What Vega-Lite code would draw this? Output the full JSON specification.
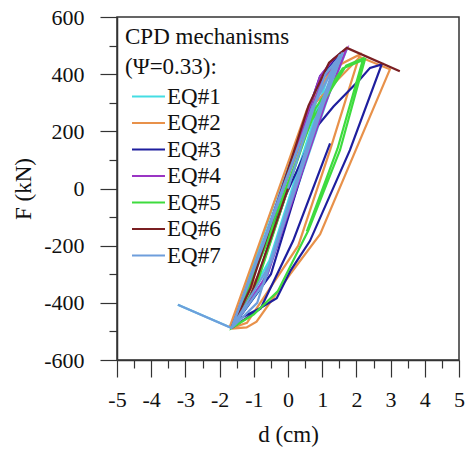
{
  "$schema": "https://vega.github.io/schema/vega-lite/v6.json",
  "width": 342,
  "height": 343,
  "autosize": "none",
  "padding": {"left": 117, "top": 17, "right": 6, "bottom": 90},
  "background": "white",
  "config": {
    "view": {"stroke": "#333", "strokeWidth": 1.5},
    "font": "Liberation Serif",
    "axis": {"labelFont": "Liberation Serif", "titleFont": "Liberation Serif"},
    "legend": {"labelFont": "Liberation Serif", "titleFont": "Liberation Serif"}
  },
  "data": {"values": [
    {"eq":"EQ#1","i":0,"d":0.0,"F":0},
    {"eq":"EQ#1","i":1,"d":0.9,"F":330},
    {"eq":"EQ#1","i":2,"d":1.55,"F":478},
    {"eq":"EQ#1","i":3,"d":1.0,"F":280},
    {"eq":"EQ#1","i":4,"d":-0.6,"F":-300},
    {"eq":"EQ#1","i":5,"d":-1.6,"F":-485},
    {"eq":"EQ#1","i":6,"d":-0.9,"F":-250},
    {"eq":"EQ#1","i":7,"d":0.5,"F":200},
    {"eq":"EQ#1","i":8,"d":1.72,"F":488},
    {"eq":"EQ#1","i":9,"d":1.2,"F":330},
    {"eq":"EQ#1","i":10,"d":-0.3,"F":-200},
    {"eq":"EQ#1","i":11,"d":-1.65,"F":-488},
    {"eq":"EQ#1","i":12,"d":-0.4,"F":-50},
    {"eq":"EQ#1","i":13,"d":0.9,"F":360},
    {"eq":"EQ#1","i":14,"d":1.3,"F":440},
    {"eq":"EQ#1","i":15,"d":0.7,"F":220},
    {"eq":"EQ#1","i":16,"d":-0.8,"F":-350},
    {"eq":"EQ#1","i":17,"d":-1.65,"F":-488},
    {"eq":"EQ#1","i":18,"d":-3.22,"F":-407},

    {"eq":"EQ#2","i":0,"d":0.0,"F":0},
    {"eq":"EQ#2","i":1,"d":-0.8,"F":-290},
    {"eq":"EQ#2","i":2,"d":-1.7,"F":-483},
    {"eq":"EQ#2","i":3,"d":0.55,"F":275},
    {"eq":"EQ#2","i":4,"d":1.3,"F":420},
    {"eq":"EQ#2","i":5,"d":2.1,"F":469},
    {"eq":"EQ#2","i":6,"d":1.23,"F":134},
    {"eq":"EQ#2","i":7,"d":0.3,"F":-200},
    {"eq":"EQ#2","i":8,"d":-1.2,"F":-470},
    {"eq":"EQ#2","i":9,"d":-1.65,"F":-488},
    {"eq":"EQ#2","i":10,"d":0.8,"F":300},
    {"eq":"EQ#2","i":11,"d":2.1,"F":460},
    {"eq":"EQ#2","i":12,"d":2.98,"F":417},
    {"eq":"EQ#2","i":13,"d":0.94,"F":-160},
    {"eq":"EQ#2","i":14,"d":0.06,"F":-300},
    {"eq":"EQ#2","i":15,"d":-0.92,"F":-466},
    {"eq":"EQ#2","i":16,"d":-1.21,"F":-486},
    {"eq":"EQ#2","i":17,"d":-1.65,"F":-490},

    {"eq":"EQ#3","i":0,"d":0.0,"F":0},
    {"eq":"EQ#3","i":1,"d":-1.0,"F":-350},
    {"eq":"EQ#3","i":2,"d":-1.5,"F":-466},
    {"eq":"EQ#3","i":3,"d":0.94,"F":393},
    {"eq":"EQ#3","i":4,"d":1.5,"F":470},
    {"eq":"EQ#3","i":5,"d":0.9,"F":250},
    {"eq":"EQ#3","i":6,"d":-0.5,"F":-300},
    {"eq":"EQ#3","i":7,"d":-1.65,"F":-488},
    {"eq":"EQ#3","i":8,"d":-0.2,"F":-60},
    {"eq":"EQ#3","i":9,"d":0.84,"F":216},
    {"eq":"EQ#3","i":10,"d":1.33,"F":287},
    {"eq":"EQ#3","i":11,"d":2.1,"F":381},
    {"eq":"EQ#3","i":12,"d":2.4,"F":422},
    {"eq":"EQ#3","i":13,"d":2.74,"F":434},
    {"eq":"EQ#3","i":14,"d":1.81,"F":134},
    {"eq":"EQ#3","i":15,"d":0.64,"F":-184},
    {"eq":"EQ#3","i":16,"d":0.06,"F":-290},
    {"eq":"EQ#3","i":17,"d":-0.33,"F":-384},
    {"eq":"EQ#3","i":18,"d":-0.82,"F":-419},
    {"eq":"EQ#3","i":19,"d":-1.4,"F":-454},
    {"eq":"EQ#3","i":20,"d":-1.65,"F":-488},
    {"eq":"EQ#3","i":21,"d":-0.8,"F":-420},
    {"eq":"EQ#3","i":22,"d":0.15,"F":-183},
    {"eq":"EQ#3","i":23,"d":1.23,"F":158},

    {"eq":"EQ#4","i":0,"d":0.0,"F":0},
    {"eq":"EQ#4","i":1,"d":-1.1,"F":-390},
    {"eq":"EQ#4","i":2,"d":-1.5,"F":-466},
    {"eq":"EQ#4","i":3,"d":0.94,"F":393},
    {"eq":"EQ#4","i":4,"d":1.32,"F":452},
    {"eq":"EQ#4","i":5,"d":1.72,"F":490},
    {"eq":"EQ#4","i":6,"d":1.1,"F":300},
    {"eq":"EQ#4","i":7,"d":-0.6,"F":-300},
    {"eq":"EQ#4","i":8,"d":-1.65,"F":-488},
    {"eq":"EQ#4","i":9,"d":-0.5,"F":-120},
    {"eq":"EQ#4","i":10,"d":1.0,"F":380},
    {"eq":"EQ#4","i":11,"d":1.5,"F":460},

    {"eq":"EQ#5","i":0,"d":0.0,"F":0},
    {"eq":"EQ#5","i":1,"d":-0.9,"F":-330},
    {"eq":"EQ#5","i":2,"d":-1.65,"F":-488},
    {"eq":"EQ#5","i":3,"d":-0.3,"F":-100},
    {"eq":"EQ#5","i":4,"d":0.8,"F":280},
    {"eq":"EQ#5","i":5,"d":1.6,"F":420},
    {"eq":"EQ#5","i":6,"d":2.25,"F":452},
    {"eq":"EQ#5","i":7,"d":1.52,"F":134},
    {"eq":"EQ#5","i":8,"d":0.59,"F":-148},
    {"eq":"EQ#5","i":9,"d":-0.3,"F":-360},
    {"eq":"EQ#5","i":10,"d":-1.0,"F":-440},
    {"eq":"EQ#5","i":11,"d":-1.65,"F":-488},
    {"eq":"EQ#5","i":12,"d":-0.6,"F":-170},
    {"eq":"EQ#5","i":13,"d":0.7,"F":240},
    {"eq":"EQ#5","i":14,"d":1.7,"F":430},
    {"eq":"EQ#5","i":15,"d":2.2,"F":455},
    {"eq":"EQ#5","i":16,"d":1.45,"F":140},
    {"eq":"EQ#5","i":17,"d":0.55,"F":-150},

    {"eq":"EQ#6","i":0,"d":0.0,"F":0},
    {"eq":"EQ#6","i":1,"d":-1.1,"F":-380},
    {"eq":"EQ#6","i":2,"d":-1.65,"F":-488},
    {"eq":"EQ#6","i":3,"d":-1.1,"F":-350},
    {"eq":"EQ#6","i":4,"d":0.6,"F":290},
    {"eq":"EQ#6","i":5,"d":1.2,"F":440},
    {"eq":"EQ#6","i":6,"d":1.72,"F":492},
    {"eq":"EQ#6","i":7,"d":3.27,"F":410},

    {"eq":"EQ#7","i":0,"d":0.0,"F":0},
    {"eq":"EQ#7","i":1,"d":0.8,"F":300},
    {"eq":"EQ#7","i":2,"d":1.52,"F":469},
    {"eq":"EQ#7","i":3,"d":0.9,"F":260},
    {"eq":"EQ#7","i":4,"d":-0.7,"F":-330},
    {"eq":"EQ#7","i":5,"d":-1.65,"F":-488},
    {"eq":"EQ#7","i":6,"d":-0.7,"F":-190},
    {"eq":"EQ#7","i":7,"d":0.7,"F":280},
    {"eq":"EQ#7","i":8,"d":1.4,"F":440},
    {"eq":"EQ#7","i":9,"d":0.8,"F":240},
    {"eq":"EQ#7","i":10,"d":-0.9,"F":-400},
    {"eq":"EQ#7","i":11,"d":-1.65,"F":-488},
    {"eq":"EQ#7","i":12,"d":-0.1,"F":20},
    {"eq":"EQ#7","i":13,"d":1.1,"F":400},
    {"eq":"EQ#7","i":14,"d":1.6,"F":475},
    {"eq":"EQ#7","i":15,"d":1.05,"F":300},
    {"eq":"EQ#7","i":16,"d":-0.5,"F":-260},
    {"eq":"EQ#7","i":17,"d":-1.65,"F":-488},
    {"eq":"EQ#7","i":18,"d":-3.22,"F":-407}
  ]},
  "mark": {"type": "line", "strokeWidth": 2.2, "clip": true},
  "encoding": {
    "x": {
      "field": "d", "type": "quantitative",
      "scale": {"domain": [-5, 5], "nice": false, "zero": false},
      "axis": {
        "title": "d (cm)",
        "values": [-5,-4.5,-4,-3.5,-3,-2.5,-2,-1.5,-1,-0.5,0,0.5,1,1.5,2,2.5,3,3.5,4,4.5,5],
        "labelExpr": "datum.value % 1 === 0 ? '' + datum.value : ''",
        "tickSize": {"condition": {"test": "datum.value % 1 === 0", "value": 17}, "value": 8},
        "tickColor": "#333",
        "tickWidth": 1.2,
        "domainColor": "#333",
        "domainWidth": 1.5,
        "grid": false,
        "labelFont": "Liberation Serif",
        "labelFontSize": 22,
        "labelColor": "#111",
        "labelPadding": 12,
        "labelFlush": false,
        "labelOverlap": false,
        "titleFont": "Liberation Serif",
        "titleFontSize": 23,
        "titleFontWeight": "normal",
        "titleColor": "#111",
        "titlePadding": 13
      }
    },
    "y": {
      "field": "F", "type": "quantitative",
      "scale": {"domain": [-600, 600], "nice": false, "zero": false},
      "axis": {
        "title": "F (kN)",
        "values": [-600,-500,-400,-300,-200,-100,0,100,200,300,400,500,600],
        "labelExpr": "datum.value % 200 === 0 ? '' + datum.value : ''",
        "tickSize": {"condition": {"test": "datum.value % 200 === 0", "value": 17}, "value": 8},
        "tickColor": "#333",
        "tickWidth": 1.2,
        "domainColor": "#333",
        "domainWidth": 1.5,
        "grid": false,
        "labelFont": "Liberation Serif",
        "labelFontSize": 22,
        "labelColor": "#111",
        "labelPadding": 16,
        "labelFlush": false,
        "labelOverlap": false,
        "titleFont": "Liberation Serif",
        "titleFontSize": 23,
        "titleFontWeight": "normal",
        "titleColor": "#111",
        "titlePadding": 8
      }
    },
    "color": {
      "field": "eq", "type": "nominal",
      "scale": {
        "domain": ["EQ#1","EQ#2","EQ#3","EQ#4","EQ#5","EQ#6","EQ#7"],
        "range": ["#45DDE3","#E8914A","#1E1E9E","#9A35C4","#3EDB3E","#7A1F22","#6E9EDC"]
      },
      "legend": {
        "title": ["CPD mechanisms", "(Ψ=0.33):"],
        "orient": "none",
        "legendX": 8,
        "legendY": 9,
        "padding": 0,
        "titleFont": "Liberation Serif",
        "titleFontSize": 23,
        "titleFontWeight": "normal",
        "titleColor": "#111",
        "titleLineHeight": 30,
        "titlePadding": 6,
        "labelFont": "Liberation Serif",
        "labelFontSize": 23,
        "labelColor": "#111",
        "labelOffset": 7,
        "symbolType": "M-2,0H2",
        "symbolSize": 272,
        "symbolStrokeWidth": 2,
        "rowPadding": 2.5,
        "symbolOffset": 12
      }
    },
    "order": {"field": "i", "type": "quantitative"}
  }
}
